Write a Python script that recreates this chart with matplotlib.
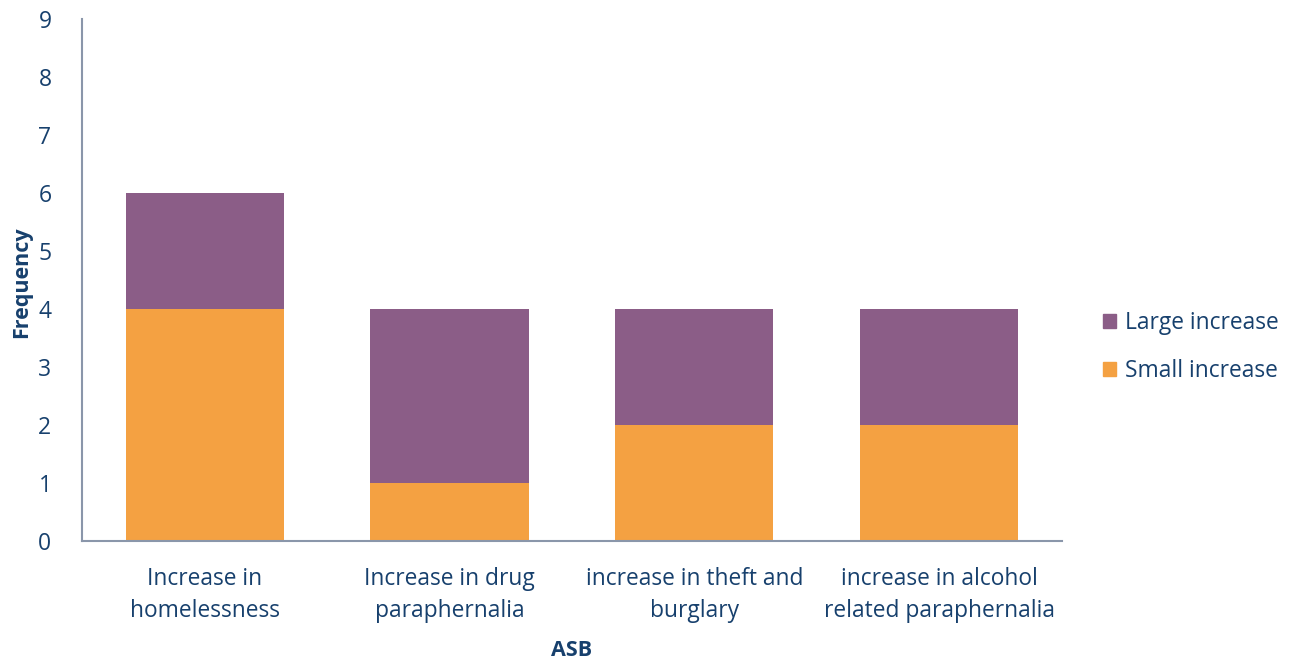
import matplotlib
matplotlib.use("Agg")
import matplotlib.pyplot as plt
from matplotlib.patches import Patch

categories = ["Increase in\nhomelessness", "Increase in drug\nparaphernalia",
              "increase in theft and\nburglary", "increase in alcohol\nrelated paraphernalia"]
small_increase = [4, 1, 2, 2]
large_increase = [2, 3, 2, 2]
y_ticks = list(range(0, 10))

text_color = "#17406D"
axis_color = "#8A96AA"
orange = "#F4A142"
purple = "#8B5D87"

plt.rcParams["font.family"] = ["Open Sans", "DejaVu Sans"]

fig = plt.figure(figsize=(12.96, 6.62), dpi=100)
ax = fig.add_axes([0.0633, 0.1828, 0.7561, 0.7885])

x = list(range(len(categories)))
ax.bar(x, small_increase, width=0.645, color=orange, label="Small increase")
ax.bar(x, large_increase, width=0.645, bottom=small_increase, color=purple, label="Large increase")

ax.set_xlim(-0.5, len(categories) - 0.5)
ax.set_ylim(0, 9)
ax.set_yticks(y_ticks)
ax.set_xticks(x)
ax.set_xticklabels(categories, fontsize=16.4, color=text_color, linespacing=1.45)
ax.tick_params(axis="y", labelsize=16.5, labelcolor=text_color, length=0, pad=22)
ax.tick_params(axis="x", length=0, pad=19)

for s in ["top", "right"]:
    ax.spines[s].set_visible(False)
for s in ["left", "bottom"]:
    ax.spines[s].set_color(axis_color)
    ax.spines[s].set_linewidth(1.5)

fig.text(22 / 1296, 1 - 282 / 662, "Frequency", rotation=90, fontsize=15.5, fontweight="bold",
         color=text_color, ha="center", va="center")
fig.text(572 / 1296, 1 - 650 / 662, "ASB", fontsize=15.5, fontweight="bold",
         color=text_color, ha="center", va="center")

handles = [Patch(color=purple, label="Large increase"), Patch(color=orange, label="Small increase")]
leg = fig.legend(handles=handles, loc="center left", bbox_to_anchor=(0.835, 0.476),
                 frameon=False, fontsize=16.4, handlelength=0.6, handleheight=0.6,
                 handletextpad=0.4, labelspacing=1.05, labelcolor=text_color)

fig.savefig("out.png", dpi=100)
